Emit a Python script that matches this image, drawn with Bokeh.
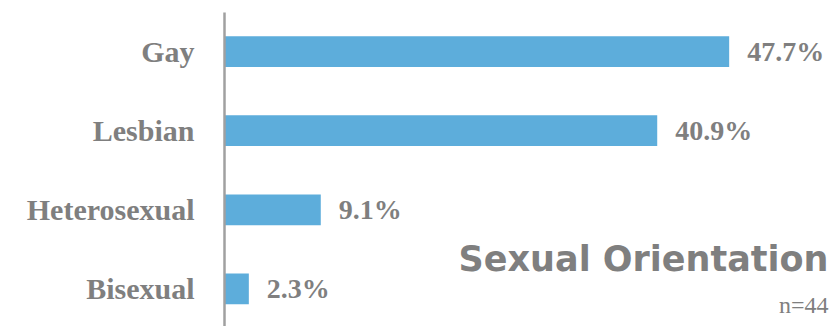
from bokeh.plotting import figure
from bokeh.models import Range1d, FixedTicker, ColumnDataSource, Label
from bokeh.core.properties import value
from bokeh.embed import file_html
from bokeh.resources import INLINE

# ---- data ----
categories = ["Gay", "Lesbian", "Heterosexual", "Bisexual"]
percentages = [47.7, 40.9, 9.1, 2.3]
value_labels = ["47.7%", "40.9%", "9.1%", "2.3%"]
title_text = "Sexual Orientation"
sample_text = "n=44"

# positions: first category at top
ypos = [float(len(categories) - 1 - i) for i in range(len(categories))]

BAR = "#5DADDB"
GREY = "#7F7F7F"
SERIF = "Liberation Serif"

src = ColumnDataSource(dict(y=ypos, v=percentages, lab=value_labels, cat=categories))

p = figure(width=835, height=326, output_backend="svg", toolbar_location=None,
           x_range=Range1d(0, 57.75), y_range=Range1d(-0.475, 3.494),
           min_border_left=224, min_border_right=0, min_border_top=12, min_border_bottom=0)
p.outline_line_color = None
p.grid.visible = False
p.xaxis.visible = False
p.background_fill_color = "white"

p.hbar(y="y", left=0, right="v", height=0.39, source=src, fill_color=BAR, line_color=None)

p.text(x="v", y="y", text="lab", source=src, x_offset=18, text_baseline="middle",
       text_align="left", text_font=value(SERIF), text_color=GREY,
       text_font_size="28px", text_font_style="bold")

ax = p.yaxis[0]
ax.ticker = FixedTicker(ticks=ypos)
ax.major_label_overrides = {y: c for y, c in zip(ypos, categories)}
ax.major_tick_line_color = None
ax.minor_tick_line_color = None
ax.major_tick_out = 0
ax.major_tick_in = 0
ax.axis_line_color = "#A0A0A0"
ax.axis_line_width = 2.5
ax.major_label_standoff = 30
ax.major_label_text_font = SERIF
ax.major_label_text_font_size = "30px"
ax.major_label_text_font_style = "bold"
ax.major_label_text_color = GREY

p.add_layout(Label(x=57.09, y=0.38, text=title_text, text_align="right",
                   text_baseline="alphabetic", text_font="DejaVu Sans",
                   text_font_style="bold", text_font_size="35px", text_color=GREY))
p.add_layout(Label(x=57.09, y=-0.2, text=sample_text, text_align="right",
                   text_baseline="alphabetic", text_font=SERIF,
                   text_font_size="24px", text_color=GREY))

open("out.html", "w").write(file_html(p, INLINE))
